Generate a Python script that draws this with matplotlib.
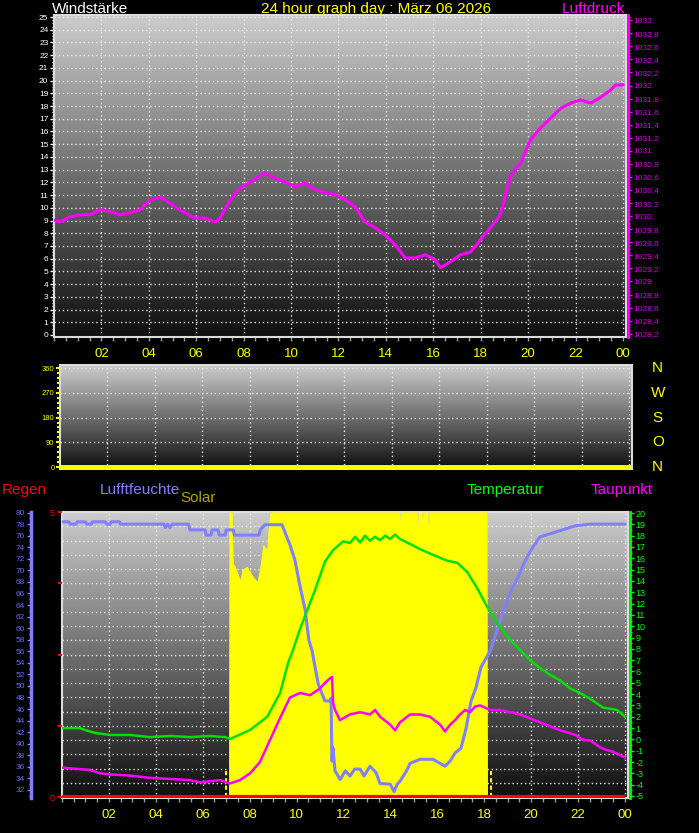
import numpy as np
import matplotlib.pyplot as plt
from matplotlib.ticker import MultipleLocator, FixedLocator, FuncFormatter

W, H = 699, 833

# ---- data ----
hour_ticks = list(range(2, 25, 2))
hour_labels = ['%02d' % (h % 24) for h in hour_ticks]

pressure_hours = [0.0, 0.25, 0.68, 1.10, 1.52, 1.94, 2.36, 2.79, 3.21, 3.63,
                  4.05, 4.48, 4.69, 5.11, 5.53, 5.95, 6.38, 6.80, 7.01, 7.43,
                  7.85, 8.28, 8.70, 8.91, 9.33, 9.76, 10.18, 10.60, 11.02, 11.44,
                  11.87, 12.29, 12.71, 13.13, 13.56, 13.98, 14.40, 14.82, 15.25, 15.67,
                  16.09, 16.30, 16.72, 17.15, 17.57, 17.99, 18.41, 18.83, 19.05, 19.26,
                  19.68, 20.10, 20.52, 20.95, 21.37, 21.79, 22.21, 22.64, 23.06, 23.48,
                  23.69, 24.0]
pressure_hpa = [1029.94, 1029.91, 1029.99, 1030.02, 1030.02, 1030.10, 1030.07, 1030.02, 1030.05, 1030.10,
                1030.25, 1030.29, 1030.25, 1030.14, 1030.05, 1029.97, 1029.97, 1029.91, 1029.97, 1030.25,
                1030.43, 1030.52, 1030.62, 1030.66, 1030.58, 1030.52, 1030.45, 1030.51, 1030.40, 1030.36,
                1030.33, 1030.25, 1030.14, 1029.91, 1029.82, 1029.71, 1029.56, 1029.36, 1029.36, 1029.41,
                1029.33, 1029.21, 1029.30, 1029.41, 1029.45, 1029.64, 1029.82, 1030.02, 1030.33, 1030.63,
                1030.81, 1031.17, 1031.35, 1031.50, 1031.65, 1031.73, 1031.78, 1031.73, 1031.82, 1031.93,
                1032.01, 1032.01]

winddir_hours = [0, 24]
winddir_deg = [0, 0]

rain_hours = [0, 24]
rain_mm = [0, 0]

hum_hours = [0.0, 0.3, 0.35, 0.6, 0.65, 1.0, 1.05, 1.25, 1.3, 1.85, 1.9, 2.05, 2.1, 2.45, 2.5,
             4.35, 4.4, 4.5, 4.6, 4.7, 5.4, 5.45, 6.1, 6.15, 6.35, 6.4, 6.65, 6.7, 6.95, 7.0,
             7.3, 7.35, 8.40, 8.45, 8.65, 9.38, 9.72, 9.93, 10.14, 10.37, 10.52, 10.66, 10.92,
             11.09, 11.21, 11.43, 11.47, 11.51, 11.55, 11.64, 11.86, 12.08, 12.28, 12.48, 12.71,
             12.88, 13.13, 13.39, 13.56, 13.99, 14.16, 14.29, 14.41, 14.69, 14.84, 15.27, 15.82,
             16.33, 16.55, 16.76, 17.01, 17.23, 17.44, 17.65, 17.86, 18.26, 18.68, 18.98, 19.19,
             19.44, 19.66, 19.83, 20.05, 20.38, 21.02, 21.33, 21.88, 22.51, 24.0]
hum_pct = [78.4, 78.4, 78.0, 78.0, 78.4, 78.4, 78.0, 78.0, 78.4, 78.4, 78.0, 78.0, 78.4, 78.4, 78.0,
           78.0, 77.4, 78.0, 77.4, 78.0, 78.0, 77.0, 77.0, 76.1, 76.1, 77.0, 77.0, 76.1, 76.1, 77.0,
           77.0, 76.1, 76.1, 77.0, 77.9, 77.9, 74.4, 71.8, 67.4, 63.1, 58.0, 56.1, 50.4,
           48.6, 47.4, 47.4, 47.9, 37.0, 39.3, 35.3, 33.8, 35.3, 34.4, 35.6, 35.6,
           34.4, 36.1, 35.0, 33.1, 33.0, 31.7, 33.0, 33.5, 35.3, 36.6, 37.3, 37.3,
           36.1, 37.0, 38.4, 39.2, 42.7, 47.4, 49.7, 53.2, 56.1, 61.3, 64.8, 66.9,
           68.8, 70.9, 72.3, 73.9, 75.8, 76.6, 77.0, 77.7, 78.0, 78.0]

temp_hours = [0.0, 0.76, 0.98, 1.41, 2.04, 2.90, 3.75, 4.61, 5.45, 6.31, 6.95, 7.17, 8.02, 8.75,
              9.30, 9.64, 9.85, 10.14, 10.79, 11.21, 11.55, 11.99, 12.28, 12.50, 12.71, 12.92,
              13.13, 13.34, 13.56, 13.78, 13.99, 14.20, 14.41, 14.71, 15.27, 15.82, 16.41, 16.85,
              17.27, 17.69, 18.13, 18.55, 19.10, 19.53, 19.96, 20.38, 20.81, 21.24, 21.67, 22.09,
              22.51, 23.07, 23.67, 24.0]
temp_c = [1.0, 1.0, 0.83, 0.57, 0.39, 0.39, 0.2, 0.3, 0.2, 0.3, 0.2, 0.04, 0.83, 2.0,
          4.1, 6.75, 7.9, 9.7, 13.2, 15.7, 16.7, 17.5, 17.35, 17.9, 17.4, 18.0,
          17.55, 17.9, 17.6, 18.0, 17.7, 18.1, 17.7, 17.4, 16.8, 16.3, 15.8, 15.6,
          14.8, 13.4, 11.7, 10.3, 8.8, 7.9, 7.0, 6.3, 5.7, 5.2, 4.5, 4.1,
          3.6, 2.8, 2.6, 2.0]

dew_hours = [0.0, 1.19, 1.62, 2.05, 2.90, 3.75, 4.61, 5.46, 5.88, 6.74, 7.16, 7.59, 8.02, 8.44,
             8.87, 9.30, 9.72, 10.15, 10.58, 11.00, 11.22, 11.43, 11.51, 11.56, 11.64, 11.85,
             12.28, 12.71, 13.13, 13.35, 13.56, 13.99, 14.20, 14.41, 14.84, 15.27, 15.69, 16.12,
             16.33, 16.55, 16.76, 16.97, 17.19, 17.40, 17.61, 17.83, 18.25, 18.68, 19.10, 19.53,
             20.38, 21.24, 21.88, 22.22, 22.52, 22.94, 23.16, 23.50, 23.71, 24.0]
dew_c = [-2.5, -2.7, -3.0, -3.1, -3.2, -3.4, -3.5, -3.6, -3.8, -3.6, -3.9, -3.6, -3.0, -2.0,
         -0.05, 1.9, 3.7, 4.1, 3.9, 4.5, 5.0, 5.4, 5.5, 3.2, 2.6, 1.7,
         2.2, 2.4, 2.2, 2.6, 2.0, 1.3, 0.8, 1.5, 2.2, 2.2, 2.0, 1.3,
         0.7, 1.3, 1.7, 2.2, 2.6, 2.4, 2.9, 3.0, 2.6, 2.6, 2.4, 2.2,
         1.5, 0.8, 0.4, -0.05, -0.1, -0.7, -0.9, -1.1, -1.3, -1.6]

# solar as share of the axis height (it saturates at the top)
solar_hours = [0, 7.10, 7.12, 7.25, 7.30, 7.38, 7.59, 7.68, 7.89, 8.14, 8.32, 8.44, 8.57, 8.74,
               8.78, 8.87, 14.40, 14.43, 14.46, 15.13, 15.16, 15.19, 15.34, 15.37, 15.40,
               15.60, 15.63, 15.66, 18.12, 18.14, 24.0]
solar_pct = [0, 0, 100, 100, 82, 81, 76.4, 79.9, 81, 77.5, 75.7, 81, 88.7, 87,
             93, 100, 100, 96.5, 100, 100, 95.5, 100, 100, 97.5, 100,
             100, 94, 100, 100, 0, 0]
sun_event_hours = [6.99, 18.29]

plt.rcParams['font.family'] = ['Liberation Sans', 'DejaVu Sans']
plt.rcParams['axes.unicode_minus'] = False

GRID = dict(color='#e6e6e6', lw=1, ls=(0, (1, 2)), zorder=1)


def rect(x0, y0, x1, y1):
    return [x0 / W, 1 - y1 / H, (x1 - x0) / W, (y1 - y0) / H]


def shade(ax, lo=0.06, hi=0.80):
    grad = np.linspace(lo, hi, 256).reshape(-1, 1)
    ax.imshow(grad, cmap='gray', vmin=0, vmax=1, aspect='auto', origin='lower',
              extent=[0, 1, 0, 1], transform=ax.transAxes, zorder=0)


def base_panel(ax, xmax, labels=True):
    shade(ax)
    ax.set_xlim(0, xmax)
    for s in ax.spines.values():
        s.set_color('#dcdcdc')
        s.set_linewidth(1.5)
    ax.xaxis.set_major_locator(FixedLocator(hour_ticks))
    ax.xaxis.set_minor_locator(MultipleLocator(0.5))
    ax.tick_params(axis='x', which='both', colors='#9a9a9a', length=3, width=1)
    if labels:
        ax.set_xticklabels(hour_labels)
        ax.tick_params(axis='x', which='major', labelcolor='#ffff00', labelsize=9.5, pad=5)
    else:
        ax.tick_params(axis='x', which='both', length=0, labelbottom=False)
    for h in hour_ticks:
        ax.axvline(h, **GRID)


def only_spine(ax, side):
    for k, s in ax.spines.items():
        s.set_visible(k == side)


def comma(v, pos):
    s = f'{v:.1f}'
    if s.endswith('.0'):
        s = s[:-2]
    return s.replace('.', ',')


fig = plt.figure(figsize=(W / 100, H / 100), dpi=100, facecolor='black')

# ---------------- top panel: wind speed + pressure ----------------
ax1 = fig.add_axes(rect(54, 15, 626, 337))
base_panel(ax1, 24.13)
ax1.set_ylim(-0.16, 25.16)
ax1.yaxis.set_major_locator(MultipleLocator(1))
ax1.yaxis.set_minor_locator(MultipleLocator(0.25))
ax1.tick_params(axis='y', which='both', colors='white', labelsize=6, width=1, pad=1)
ax1.tick_params(axis='y', which='major', length=3)
ax1.tick_params(axis='y', which='minor', length=1.5)
for v in range(1, 26):
    ax1.axhline(v, **GRID)

ax1p = ax1.twinx()
ax1p.set_ylim(1028.15, 1033.08)
ax1p.plot(pressure_hours, pressure_hpa, color='#ff00ff', lw=2.2)
only_spine(ax1p, 'right')
ax1p.spines['right'].set_color('#ff00ff')
ax1p.spines['right'].set_linewidth(2)
ax1p.spines['right'].set_position(('outward', 1.5))
ax1p.yaxis.set_major_locator(MultipleLocator(0.2))
ax1p.yaxis.set_minor_locator(MultipleLocator(0.05))
ax1p.yaxis.set_major_formatter(FuncFormatter(comma))
ax1p.tick_params(axis='y', which='both', colors='#ff00ff', labelcolor='#d000e0',
                 labelsize=6, width=1, pad=1)
ax1p.tick_params(axis='y', which='major', length=3)
ax1p.tick_params(axis='y', which='minor', length=1.5)

# ---------------- middle panel: wind direction ----------------
ax2 = fig.add_axes(rect(60, 365, 632, 469))
base_panel(ax2, 24.13, labels=False)
ax2.set_ylim(-7, 371)
ax2.yaxis.set_major_locator(FixedLocator([0, 90, 180, 270, 360]))
ax2.yaxis.set_minor_locator(MultipleLocator(18))
ax2.tick_params(axis='y', which='both', colors='#ffff00', labelsize=5.5, width=1.5, pad=1)
ax2.tick_params(axis='y', which='major', length=3)
ax2.tick_params(axis='y', which='minor', length=2)
for v in [90, 180, 270, 360]:
    ax2.axhline(v, **GRID)
ax2.plot(winddir_hours, winddir_deg, color='#ffff00', lw=3.5, zorder=3)
for v, t in zip([360, 270, 180, 90, 0], ['N', 'W', 'S', 'O', 'N']):
    ax2.text(1.045, v, t, transform=ax2.get_yaxis_transform(), color='#ffff00',
             fontsize=11, ha='center', va='center')

# ---------------- bottom panel ----------------
ax3 = fig.add_axes(rect(62, 512, 628, 798))
base_panel(ax3, 24.13)
ax3.set_ylim(-0.0175, 5.0)
ax3.tick_params(axis='y', left=False, labelleft=False)
for v in np.arange(0.25, 5.01, 0.25):
    ax3.axhline(v, **GRID)
ax3.set_zorder(1)

# solar
ax_s = ax3.twinx()
ax_s.set_zorder(2)
ax_s.set_ylim(-0.35, 100)
ax_s.fill_between(solar_hours, 0, solar_pct, color='#ffff00', lw=0)
ax_s.vlines(sun_event_hours, 0, 9, color='#ffff00', lw=1.5, linestyles=(0, (2, 1.5)))
ax_s.axis('off')

# humidity
ax_h = ax3.twinx()
ax_h.set_zorder(3)
ax_h.set_ylim(30.6, 80.1)
ax_h.plot(hum_hours, hum_pct, color='#8080ff', lw=2.2)
only_spine(ax_h, 'left')
ax_h.yaxis.tick_left()
ax_h.spines['left'].set_position(('outward', 22.5))
ax_h.spines['left'].set_color('#8080ff')
ax_h.spines['left'].set_linewidth(2.5)
ax_h.yaxis.set_major_locator(MultipleLocator(2))
ax_h.yaxis.set_minor_locator(MultipleLocator(1))
ax_h.tick_params(axis='y', which='both', colors='#8080ff', labelcolor='#6a6aff',
                 labelsize=6, width=1, pad=1)
ax_h.tick_params(axis='y', which='major', length=3)
ax_h.tick_params(axis='y', which='minor', length=1.5)

# temperature / dew point
ax_t = ax3.twinx()
ax_t.set_zorder(4)
ax_t.set_ylim(-5.18, 20.09)
ax_t.plot(temp_hours, temp_c, color='#00e000', lw=1.8)
ax_t.plot(dew_hours, dew_c, color='#ff00ff', lw=1.8)
only_spine(ax_t, 'right')
ax_t.spines['right'].set_position(('outward', 1.5))
ax_t.spines['right'].set_color('#00ff00')
ax_t.spines['right'].set_linewidth(2)
ax_t.yaxis.set_major_locator(MultipleLocator(1))
ax_t.yaxis.set_minor_locator(MultipleLocator(0.5))
ax_t.tick_params(axis='y', which='both', colors='#00ff00', labelsize=6.5, width=1, pad=1)
ax_t.tick_params(axis='y', which='major', length=3)
ax_t.tick_params(axis='y', which='minor', length=1.5)

# rain
ax_r = ax3.twinx()
ax_r.set_zorder(5)
ax_r.set_ylim(-0.0175, 5.0)
ax_r.plot(rain_hours, rain_mm, color='#ff0000', lw=3, solid_capstyle='butt')
only_spine(ax_r, 'none')
ax_r.yaxis.tick_left()
ax_r.yaxis.set_major_locator(FixedLocator([0, 1.25, 2.5, 3.75, 5]))
ax_r.yaxis.set_major_formatter(FuncFormatter(lambda v, p: '%g' % v if v in (0, 5) else ''))
ax_r.tick_params(axis='y', colors='#ff0000', labelsize=6.5, length=3, width=1.5, pad=2)

# ---------------- headings ----------------
def fx(x):
    return x / W


def fy(y):
    return 1 - y / H


fig.text(fx(52), fy(9), 'Windstärke', color='white', fontsize=11, ha='left', va='center')
fig.text(fx(376), fy(9), '24 hour graph day : März 06 2026', color='#ffff00', fontsize=11,
         ha='center', va='center')
fig.text(fx(625), fy(9), 'Luftdruck', color='#ff00ff', fontsize=11, ha='right', va='center')
fig.text(fx(2), fy(490), 'Regen', color='#ff0000', fontsize=11, ha='left', va='center')
fig.text(fx(100), fy(490), 'Lufftfeuchte', color='#8080ff', fontsize=11, ha='left', va='center')
fig.text(fx(180), fy(498), 'Solar', color='#a8a800', fontsize=11, ha='left', va='center')
fig.text(fx(467), fy(490), 'Temperatur', color='#00ff00', fontsize=11, ha='left', va='center')
fig.text(fx(591), fy(490), 'Taupunkt', color='#ff00ff', fontsize=11, ha='left', va='center')

fig.savefig('out.png', dpi=100, facecolor='black')
